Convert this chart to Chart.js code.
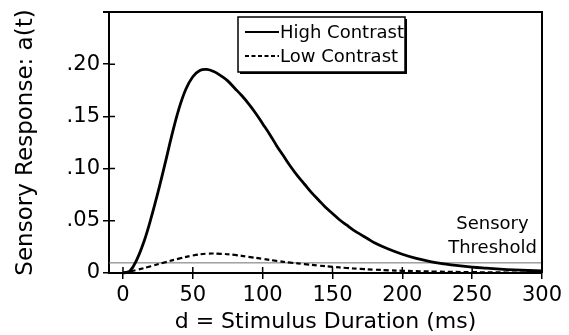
<!DOCTYPE html>
<html>
<head>
<meta charset="utf-8">
<script src="https://cdn.jsdelivr.net/npm/chart.js@4.4.1/dist/chart.umd.min.js"></script>
<style>
  html, body { margin: 0; padding: 0; background: #fff; }
  #wrap { width: 569px; height: 335px; position: relative; }
</style>
</head>
<body>
<div id="wrap"><canvas id="c" width="569" height="335"></canvas></div>
<script>
// ---- data ----
const highX = [0, 5, 10, 15, 20, 25, 30, 35, 40, 45, 50, 55, 60, 65, 70, 75, 80, 85, 90, 95, 100, 105, 110, 115, 120, 125, 130, 135, 140, 145, 150, 155, 160, 165, 170, 175, 180, 190, 200, 210, 220, 230, 240, 250, 260, 270, 280, 290, 300];
const highY = [0, 0.002, 0.013, 0.030, 0.052, 0.077, 0.104, 0.132, 0.157, 0.176, 0.188, 0.194, 0.195, 0.193, 0.189, 0.184, 0.177, 0.170, 0.162, 0.153, 0.143, 0.133, 0.122, 0.112, 0.102, 0.093, 0.085, 0.077, 0.070, 0.063, 0.057, 0.051, 0.046, 0.041, 0.037, 0.033, 0.029, 0.023, 0.018, 0.014, 0.011, 0.0088, 0.0070, 0.0056, 0.0046, 0.0037, 0.0030, 0.0024, 0.0020];
const lowX = [0, 10, 20, 30, 40, 50, 60, 70, 80, 90, 100, 110, 120, 130, 140, 150, 160, 170, 180, 190, 200, 225, 250, 275, 300];
const lowY = [0, 0.0030, 0.0065, 0.0102, 0.0138, 0.0168, 0.0185, 0.0184, 0.0173, 0.0155, 0.0135, 0.0116, 0.0099, 0.0085, 0.0071, 0.0059, 0.0048, 0.0039, 0.0032, 0.0026, 0.0021, 0.0013, 0.0008, 0.0005, 0.0003];
const thresholdValue = 0.0097;
const thresholdX = [-10, 300];
const xTicks = [0, 50, 100, 150, 200, 250, 300];
const yTicks = [0, 0.05, 0.10, 0.15, 0.20];
const yTickLabels = ['0', '.05', '.10', '.15', '.20'];
const seriesNames = ['High Contrast', 'Low Contrast'];
const thresholdLabel = ['Sensory', 'Threshold'];
const xTitle = 'd = Stimulus Duration (ms)';
const yTitle = 'Sensory Response: a(t)';

const FONT = "'DejaVu Sans', sans-serif";

const toPts = (xs, ys) => xs.map((x, i) => ({ x: x, y: ys[i] }));

const decorPlugin = {
  id: 'decor',
  afterDraw(chart) {
    const ctx = chart.ctx;
    const a = chart.chartArea;
    const xs = chart.scales.x, ys = chart.scales.y;
    ctx.save();
    // frame top and right
    ctx.strokeStyle = '#000';
    ctx.lineWidth = 2;
    ctx.beginPath();
    ctx.moveTo(a.left - 6, a.top);
    ctx.lineTo(a.right, a.top);
    ctx.lineTo(a.right, a.bottom);
    ctx.stroke();
    // inner halves of tick marks
    ctx.lineWidth = 1.5;
    ctx.beginPath();
    xTicks.forEach(v => {
      const px = xs.getPixelForValue(v);
      ctx.moveTo(px, a.bottom);
      ctx.lineTo(px, a.bottom - 6);
    });
    yTicks.forEach(v => {
      const py = ys.getPixelForValue(v);
      ctx.moveTo(a.left, py);
      ctx.lineTo(a.left + 6, py);
    });
    ctx.stroke();
    // legend box with shadow
    const bx = 238, by = 17, bw = 167, bh = 55;
    ctx.fillStyle = '#000';
    ctx.fillRect(bx + 2, by + 2, bw, bh);
    ctx.fillStyle = '#fff';
    ctx.fillRect(bx, by, bw, bh);
    ctx.lineWidth = 1.5;
    ctx.strokeStyle = '#000';
    ctx.strokeRect(bx, by, bw, bh);
    const ds = chart.data.datasets;
    [0, 1].forEach(i => {
      const yy = i === 0 ? 32 : 56;
      ctx.beginPath();
      ctx.lineWidth = i === 0 ? 2.2 : 2;
      ctx.setLineDash(i === 0 ? [] : [4, 2.5]);
      ctx.moveTo(245, yy);
      ctx.lineTo(279, yy);
      ctx.stroke();
      ctx.setLineDash([]);
      ctx.fillStyle = '#000';
      ctx.font = "18px " + FONT;
      ctx.textBaseline = 'middle';
      ctx.textAlign = 'left';
      ctx.fillText(ds[i].label, 280, yy + 1);
    });
    // threshold label
    ctx.font = "18px " + FONT;
    ctx.textAlign = 'center';
    ctx.textBaseline = 'middle';
    ctx.fillStyle = '#000';
    ctx.fillText(thresholdLabel[0], 492.5, 224);
    ctx.fillText(thresholdLabel[1], 492.5, 248);
    ctx.restore();
  }
};

new Chart(document.getElementById('c'), {
  type: 'line',
  data: {
    datasets: [
      {
        label: seriesNames[0],
        data: toPts(highX, highY),
        borderColor: '#000',
        borderWidth: 2.8,
        pointRadius: 0,
        tension: 0.4,
        fill: false,
        clip: 6
      },
      {
        label: seriesNames[1],
        data: toPts(lowX, lowY),
        borderColor: '#000',
        borderWidth: 2.2,
        borderDash: [5, 3],
        pointRadius: 0,
        tension: 0.4,
        fill: false,
        clip: 6
      },
      {
        label: 'Sensory Threshold',
        data: thresholdX.map(x => ({ x: x, y: thresholdValue })),
        borderColor: '#707070',
        borderWidth: 1,
        pointRadius: 0,
        fill: false
      }
    ]
  },
  options: {
    responsive: false,
    animation: false,
    layout: { padding: { top: 12, right: 27, left: 0, bottom: 0 } },
    plugins: {
      legend: { display: false },
      tooltip: { enabled: false }
    },
    scales: {
      x: {
        type: 'linear',
        min: -10,
        max: 300,
        afterBuildTicks: s => { s.ticks = xTicks.map(v => ({ value: v })); },
        afterFit: s => { s.height = 62; s.paddingLeft = 0; s.paddingRight = 0; },
        ticks: {
          color: '#000',
          font: { family: FONT, size: 21 },
          padding: 4,
          maxRotation: 0,
          callback: v => String(v)
        },
        grid: { drawOnChartArea: false, drawTicks: true, tickLength: 6, color: '#000', lineWidth: 1.5 },
        border: { display: true, color: '#000', width: 2 },
        title: {
          display: true,
          text: xTitle,
          color: '#000',
          font: { family: FONT, size: 22 },
          padding: { top: 0, bottom: 0 }
        }
      },
      y: {
        type: 'linear',
        min: 0,
        max: 0.25,
        afterBuildTicks: s => { s.ticks = yTicks.map(v => ({ value: v })); },
        afterFit: s => { s.width = 109; s.paddingTop = 0; s.paddingBottom = 0; },
        ticks: {
          color: '#000',
          font: { family: FONT, size: 21 },
          padding: 3,
          callback: (v) => {
            const i = yTicks.findIndex(t => Math.abs(t - v) < 1e-9);
            return i >= 0 ? yTickLabels[i] : '';
          }
        },
        grid: { drawOnChartArea: false, drawTicks: true, tickLength: 6, color: '#000', lineWidth: 1.5 },
        border: { display: true, color: '#000', width: 2 },
        title: {
          display: true,
          text: yTitle,
          color: '#000',
          font: { family: FONT, size: 23 },
          padding: { top: 12, bottom: 0 }
        }
      }
    }
  },
  plugins: [decorPlugin]
});
</script>
</body>
</html>
